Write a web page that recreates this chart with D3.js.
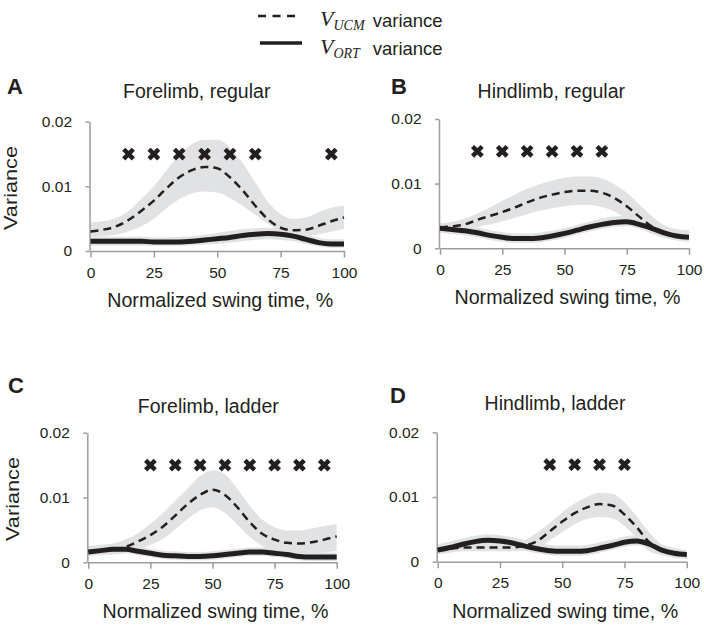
<!DOCTYPE html>
<html><head><meta charset="utf-8">
<script src="https://cdn.jsdelivr.net/npm/d3@7"></script>
<style>
html,body{margin:0;padding:0;background:#fff;}
svg{display:block;}
text{fill:#231f20;font-family:"Liberation Sans",Arial,sans-serif;}
</style></head>
<body>
<svg id="chart" width="704" height="635"></svg>
<script>
// ---------- data ----------
const timePoints = [0,5,10,15,20,25,30,35,40,45,50,55,60,65,70,75,80,85,90,95,100];
const xTicks = [0,25,50,75,100];
const yTicks = [0,0.01,0.02];
const yTickLabels = ["0","0.01","0.02"];
const panelLetters = ["A","B","C","D"];
const panelTitles = ["Forelimb, regular","Hindlimb, regular","Forelimb, ladder","Hindlimb, ladder"];
const seriesNames = ["UCM","ORT"];
const crossLevel = 0.015;

// Panel A — Forelimb, regular
const aUcm   = [.0030,.0033,.0038,.0048,.0062,.0078,.0097,.0114,.0125,.0130,.0128,.0114,.0094,.0070,.0049,.0036,.0032,.0033,.0039,.0046,.0052];
const aUcmHi = [.0044,.0046,.0051,.0062,.0080,.0100,.0125,.0148,.0165,.0172,.0172,.0160,.0136,.0106,.0076,.0057,.0050,.0052,.0060,.0067,.0070];
const aUcmLo = [.0022,.0023,.0025,.0030,.0038,.0050,.0066,.0080,.0089,.0092,.0090,.0082,.0070,.0056,.0042,.0031,.0025,.0024,.0026,.0030,.0034];
const aOrt   = [.0015,.0015,.0015,.0015,.0015,.0014,.0014,.0014,.0015,.0017,.0019,.0021,.0024,.0026,.0027,.0026,.0023,.0018,.0013,.0011,.0011];
const aOrtHi = [.0022,.0022,.0022,.0022,.0022,.0021,.0021,.0022,.0023,.0025,.0028,.0031,.0034,.0035,.0036,.0035,.0031,.0026,.0020,.0018,.0018];
const aOrtLo = [.0008,.0008,.0008,.0008,.0008,.0008,.0008,.0008,.0009,.0010,.0011,.0013,.0015,.0017,.0018,.0017,.0015,.0011,.0007,.0005,.0005];
const aCrosses = [15,25,35,45,55,65,95];

// Panel B — Hindlimb, regular
const bUcm   = [.0032,.0034,.0037,.0044,.0050,.0056,.0063,.0071,.0078,.0083,.0087,.0089,.0089,.0086,.0078,.0065,.0049,.0034,.0025,.0020,.0018];
const bUcmHi = [.0038,.0041,.0046,.0054,.0063,.0073,.0083,.0092,.0099,.0105,.0109,.0111,.0111,.0108,.0099,.0086,.0068,.0050,.0036,.0030,.0028];
const bUcmLo = [.0025,.0027,.0029,.0033,.0037,.0042,.0047,.0053,.0058,.0062,.0065,.0067,.0067,.0064,.0057,.0045,.0032,.0022,.0016,.0013,.0012];
const bOrt   = [.0031,.0029,.0027,.0024,.0020,.0017,.0015,.0015,.0016,.0019,.0023,.0028,.0033,.0037,.0040,.0041,.0037,.0031,.0024,.0019,.0017];
const bOrtHi = [.0039,.0037,.0035,.0032,.0028,.0025,.0023,.0023,.0024,.0027,.0031,.0036,.0041,.0046,.0049,.0050,.0046,.0040,.0032,.0027,.0025];
const bOrtLo = [.0024,.0022,.0020,.0017,.0013,.0010,.0008,.0008,.0009,.0012,.0016,.0021,.0026,.0030,.0033,.0034,.0030,.0024,.0017,.0012,.0010];
const bCrosses = [15,25,35,45,55,65];

// Panel C — Forelimb, ladder
const cUcm   = [.0017,.0018,.0019,.0024,.0032,.0042,.0055,.0072,.0090,.0104,.0112,.0104,.0085,.0062,.0044,.0035,.0030,.0029,.0031,.0035,.0040];
const cUcmHi = [.0025,.0027,.0029,.0035,.0045,.0059,.0076,.0095,.0114,.0133,.0142,.0136,.0113,.0087,.0066,.0054,.0049,.0049,.0052,.0056,.0059];
const cUcmLo = [.0010,.0011,.0012,.0014,.0019,.0027,.0036,.0051,.0067,.0080,.0085,.0076,.0058,.0039,.0025,.0017,.0014,.0013,.0013,.0015,.0018];
const cOrt   = [.0016,.0018,.0020,.0020,.0017,.0014,.0011,.0010,.0009,.0009,.0010,.0012,.0014,.0016,.0016,.0014,.0012,.0009,.0008,.0008,.0008];
const cOrtHi = [.0023,.0025,.0027,.0027,.0024,.0021,.0018,.0017,.0016,.0016,.0017,.0019,.0021,.0023,.0023,.0021,.0019,.0016,.0015,.0015,.0015];
const cOrtLo = [.0010,.0012,.0014,.0014,.0011,.0008,.0005,.0004,.0003,.0003,.0004,.0006,.0008,.0010,.0010,.0008,.0006,.0003,.0002,.0002,.0002];
const cCrosses = [25,35,45,55,65,75,85,95];

// Panel D — Hindlimb, ladder
const dUcm   = [.0018,.0020,.0022,.0022,.0022,.0022,.0022,.0025,.0032,.0047,.0062,.0075,.0084,.0089,.0087,.0073,.0053,.0030,.0018,.0013,.0011];
const dUcmHi = [.0024,.0027,.0029,.0030,.0030,.0030,.0030,.0034,.0045,.0060,.0076,.0090,.0100,.0106,.0105,.0092,.0070,.0045,.0026,.0019,.0016];
const dUcmLo = [.0012,.0014,.0016,.0016,.0016,.0016,.0016,.0017,.0020,.0033,.0046,.0058,.0066,.0069,.0067,.0055,.0036,.0016,.0010,.0007,.0006];
const dOrt   = [.0018,.0022,.0027,.0031,.0033,.0032,.0029,.0024,.0020,.0017,.0016,.0016,.0017,.0021,.0025,.0030,.0032,.0027,.0018,.0013,.0011];
const dOrtHi = [.0027,.0031,.0036,.0040,.0042,.0041,.0038,.0033,.0029,.0026,.0025,.0025,.0026,.0030,.0034,.0039,.0041,.0036,.0027,.0021,.0018];
const dOrtLo = [.0011,.0015,.0020,.0024,.0026,.0025,.0022,.0017,.0013,.0010,.0009,.0009,.0010,.0014,.0018,.0023,.0025,.0020,.0011,.0006,.0004];
const dCrosses = [45,55,65,75];

// ---------- layout ----------
const panels = [
  {letter:panelLetters[0], title:panelTitles[0], ucm:aUcm, ucmHi:aUcmHi, ucmLo:aUcmLo, ort:aOrt, ortHi:aOrtHi, ortLo:aOrtLo, crosses:aCrosses,
   box:{l:90.5,r:344,t:121.7,b:251}, letterPos:[7,94], titlePos:[196.7,98], ylabel:[17,188]},
  {letter:panelLetters[1], title:panelTitles[1], ucm:bUcm, ucmHi:bUcmHi, ucmLo:bUcmLo, ort:bOrt, ortHi:bOrtHi, ortLo:bOrtLo, crosses:bCrosses,
   box:{l:440,r:689,t:119,b:248.3}, letterPos:[391,94], titlePos:[551.3,97.7], ylabel:null},
  {letter:panelLetters[2], title:panelTitles[2], ucm:cUcm, ucmHi:cUcmHi, ucmLo:cUcmLo, ort:cOrt, ortHi:cOrtHi, ortLo:cOrtLo, crosses:cCrosses,
   box:{l:88.3,r:336.7,t:432.7,b:562.3}, letterPos:[8,393.3], titlePos:[208.3,413], ylabel:[19,499]},
  {letter:panelLetters[3], title:panelTitles[3], ucm:dUcm, ucmHi:dUcmHi, ucmLo:dUcmLo, ort:dOrt, ortHi:dOrtHi, ortLo:dOrtLo, crosses:dCrosses,
   box:{l:437.7,r:686.7,t:432.3,b:561.7}, letterPos:[390,402.7], titlePos:[555,410], ylabel:null}
];

const BAND = "#e1e2e4", AXIS = "#9d9d9d", INK = "#231f20";
const svg = d3.select("#chart");

panels.forEach(p => {
  const x = d3.scaleLinear().domain([0,100]).range([p.box.l, p.box.r]);
  const y = d3.scaleLinear().domain([0,0.02]).range([p.box.b, p.box.t]);
  const g = svg.append("g");

  const area = (lo, hi) => d3.area().curve(d3.curveMonotoneX)
      .x((d,i)=>x(timePoints[i])).y0((d,i)=>y(lo[i])).y1((d,i)=>y(hi[i]));
  const line = d3.line().curve(d3.curveMonotoneX).x((d,i)=>x(timePoints[i])).y(d=>y(d));

  g.append("path").datum(timePoints).attr("d", area(p.ucmLo,p.ucmHi)).attr("fill",BAND);
  g.append("path").datum(timePoints).attr("d", area(p.ortLo,p.ortHi)).attr("fill",BAND);

  // axes
  const yAxis = d3.axisLeft(y).tickValues(yTicks).tickFormat((d,i)=>yTickLabels[i])
      .tickSize(4).tickSizeOuter(0).tickPadding(13.5);
  const ya = g.append("g").attr("transform",`translate(${p.box.l-1},0)`).call(yAxis);
  const xAxis = d3.axisBottom(x).tickValues(xTicks).tickFormat(d=>String(d))
      .tickSize(6.5).tickSizeOuter(0).tickPadding(9);
  const xa = g.append("g").attr("transform",`translate(0,${p.box.b})`).call(xAxis);
  [ya,xa].forEach(a=>{
    a.select(".domain").attr("stroke",AXIS).attr("stroke-width",1.5);
    a.selectAll(".tick line").attr("stroke",AXIS).attr("stroke-width",1.5);
    a.selectAll(".tick text").attr("font-size",15.5).attr("fill",INK)
      .attr("font-family","'Liberation Sans',Arial,sans-serif");
  });

  g.append("path").datum(p.ort).attr("d", line).attr("fill","none")
    .attr("stroke",INK).attr("stroke-width",5);
  g.append("path").datum(p.ucm).attr("d", line).attr("fill","none")
    .attr("stroke",INK).attr("stroke-width",2.5).attr("stroke-dasharray","8,5");

  // significance crosses
  g.selectAll("path.cross").data(p.crosses).enter().append("path")
    .attr("class","cross")
    .attr("transform",d=>`translate(${x(d)},${y(crossLevel)})`)
    .attr("d","M-4.8,-4.8L4.8,4.8M-4.8,4.8L4.8,-4.8")
    .attr("stroke",INK).attr("stroke-width",4.5).attr("fill","none");

  // texts
  g.append("text").attr("x",p.letterPos[0]).attr("y",p.letterPos[1])
    .attr("font-size",22).attr("font-weight","bold").text(p.letter);
  g.append("text").attr("x",p.titlePos[0]).attr("y",p.titlePos[1])
    .attr("text-anchor","middle").attr("font-size",19.5).text(p.title);
  g.append("text").attr("x",(p.box.l+p.box.r)/2+3).attr("y",p.box.b+56)
    .attr("text-anchor","middle").attr("font-size",21)
    .attr("textLength",226).attr("lengthAdjust","spacingAndGlyphs")
    .text("Normalized swing time, %");
  if (p.ylabel) {
    g.append("text").attr("transform",`translate(${p.ylabel[0]},${p.ylabel[1]}) rotate(-90)`)
      .attr("text-anchor","middle").attr("font-size",19)
      .attr("textLength",84).attr("lengthAdjust","spacingAndGlyphs").text("Variance");
  }
});

// ---------- legend ----------
const leg = svg.append("g");
leg.append("line").attr("x1",258).attr("x2",295).attr("y1",16).attr("y2",16)
  .attr("stroke",INK).attr("stroke-width",2.5).attr("stroke-dasharray","8,6.5");
leg.append("line").attr("x1",260).attr("x2",302).attr("y1",43).attr("y2",43)
  .attr("stroke",INK).attr("stroke-width",3.5);
[[seriesNames[0],26],[seriesNames[1],54]].forEach(([sub,yb])=>{
  const t = leg.append("text").attr("x",320).attr("y",yb);
  t.append("tspan").attr("font-family","'Liberation Serif','Times New Roman',serif")
    .attr("font-style","italic").attr("font-size",22).text("V");
  t.append("tspan").attr("font-family","'Liberation Serif','Times New Roman',serif")
    .attr("font-style","italic").attr("font-size",14).attr("dy",4).text(sub);
  leg.append("text").attr("x",372.7).attr("y",yb+0.8).attr("font-size",18.5).text("variance");
});
</script>
</body></html>
